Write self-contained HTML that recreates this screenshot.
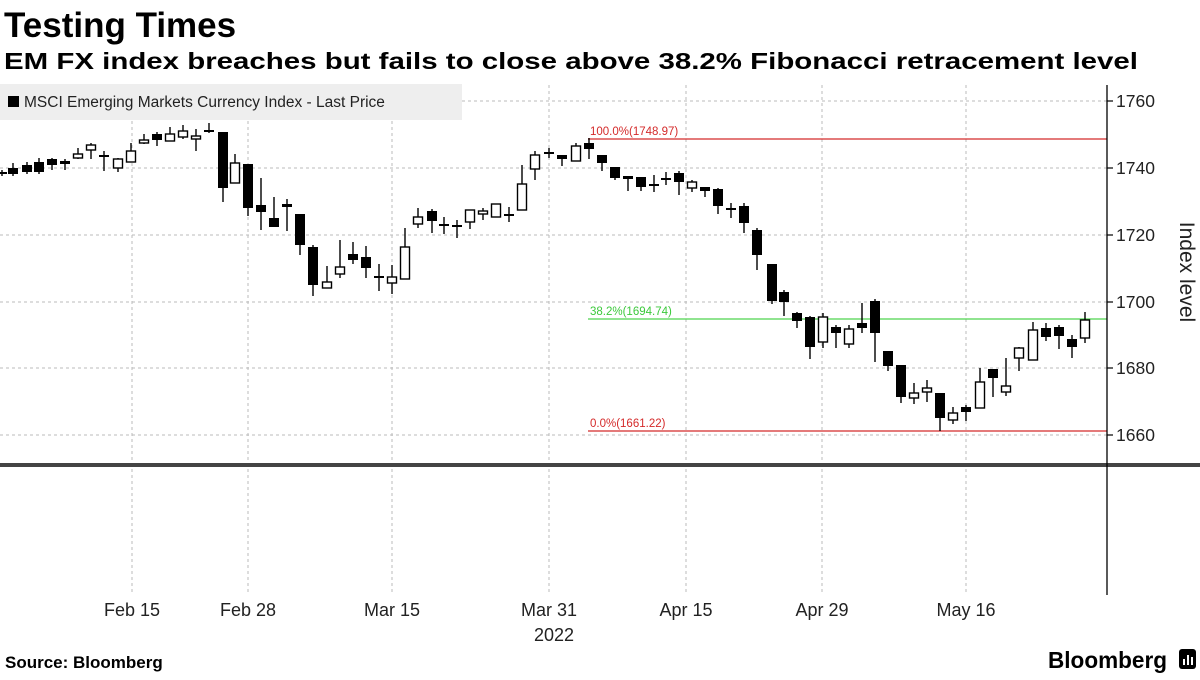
<!DOCTYPE html>
<html><head><meta charset="utf-8"><style>
body{margin:0;background:#fff;width:1200px;height:675px;overflow:hidden;font-family:"Liberation Sans",sans-serif}
</style></head><body>
<svg width="1200" height="675" xmlns="http://www.w3.org/2000/svg" font-family="Liberation Sans, sans-serif">
<text x="4" y="37" font-size="35" font-weight="bold" fill="#000">Testing Times</text>
<text x="4" y="69" font-size="23.5" font-weight="bold" fill="#000" textLength="1134" lengthAdjust="spacingAndGlyphs">EM FX index breaches but fails to close above 38.2% Fibonacci retracement level</text>
<g stroke="#bbb" stroke-width="1" stroke-dasharray="3,3">
<line x1="132" y1="85" x2="132" y2="595"/><line x1="248" y1="85" x2="248" y2="595"/><line x1="392" y1="85" x2="392" y2="595"/><line x1="549" y1="85" x2="549" y2="595"/><line x1="686" y1="85" x2="686" y2="595"/><line x1="822" y1="85" x2="822" y2="595"/><line x1="966" y1="85" x2="966" y2="595"/>
<line x1="0" y1="101" x2="1107" y2="101"/><line x1="0" y1="168" x2="1107" y2="168"/><line x1="0" y1="235" x2="1107" y2="235"/><line x1="0" y1="302" x2="1107" y2="302"/><line x1="0" y1="368" x2="1107" y2="368"/><line x1="0" y1="435" x2="1107" y2="435"/>
</g>
<rect x="0" y="84" width="462" height="36" fill="#eeeeee"/>
<rect x="8" y="96" width="11" height="11" fill="#000"/>
<text x="24" y="107" font-size="15.5" fill="#222">MSCI Emerging Markets Currency Index - Last Price</text>
<line x1="588" y1="139" x2="1107" y2="139" stroke="#d42a2a" stroke-width="1.2"/>
<text x="590" y="135" font-size="11.5" fill="#d42a2a">100.0%(1748.97)</text>
<line x1="588" y1="319" x2="1107" y2="319" stroke="#4dd34d" stroke-width="1.2"/>
<text x="590" y="315" font-size="11.5" fill="#3cc93c">38.2%(1694.74)</text>
<line x1="588" y1="431" x2="1107" y2="431" stroke="#d42a2a" stroke-width="1.2"/>
<text x="590" y="427" font-size="11.5" fill="#d42a2a">0.0%(1661.22)</text>
<g stroke="#000" stroke-width="1.4">
<line x1="2" y1="170" x2="2" y2="176"/><line x1="13" y1="163" x2="13" y2="176"/><line x1="27" y1="162" x2="27" y2="174"/><line x1="39" y1="158" x2="39" y2="174"/><line x1="52" y1="158" x2="52" y2="170"/><line x1="65" y1="159" x2="65" y2="170"/><line x1="78" y1="148" x2="78" y2="159"/><line x1="91" y1="143" x2="91" y2="159"/><line x1="104" y1="151" x2="104" y2="171"/><line x1="118" y1="158" x2="118" y2="172"/><line x1="131" y1="143" x2="131" y2="162"/><line x1="144" y1="134" x2="144" y2="144"/><line x1="157" y1="132" x2="157" y2="146"/><line x1="170" y1="127" x2="170" y2="141"/><line x1="183" y1="125" x2="183" y2="139"/><line x1="196" y1="129" x2="196" y2="151"/><line x1="209" y1="123" x2="209" y2="133"/><line x1="223" y1="132" x2="223" y2="202"/><line x1="235" y1="154" x2="235" y2="183"/><line x1="248" y1="164" x2="248" y2="216"/><line x1="261" y1="178" x2="261" y2="230"/><line x1="274" y1="197" x2="274" y2="227"/><line x1="287" y1="199" x2="287" y2="231"/><line x1="300" y1="214" x2="300" y2="255"/><line x1="313" y1="245" x2="313" y2="296"/><line x1="327" y1="266" x2="327" y2="288"/><line x1="340" y1="240" x2="340" y2="278"/><line x1="353" y1="242" x2="353" y2="264"/><line x1="366" y1="246" x2="366" y2="278"/><line x1="379" y1="264" x2="379" y2="291"/><line x1="392" y1="265" x2="392" y2="294"/><line x1="405" y1="228" x2="405" y2="279"/><line x1="418" y1="208" x2="418" y2="228"/><line x1="432" y1="209" x2="432" y2="233"/><line x1="444" y1="217" x2="444" y2="234"/><line x1="457" y1="220" x2="457" y2="238"/><line x1="470" y1="210" x2="470" y2="229"/><line x1="483" y1="208" x2="483" y2="220"/><line x1="496" y1="204" x2="496" y2="217"/><line x1="509" y1="207" x2="509" y2="222"/><line x1="522" y1="165" x2="522" y2="210"/><line x1="535" y1="151" x2="535" y2="180"/><line x1="549" y1="148" x2="549" y2="158"/><line x1="562" y1="155" x2="562" y2="166"/><line x1="576" y1="143" x2="576" y2="161"/><line x1="589" y1="138" x2="589" y2="159"/><line x1="602" y1="155" x2="602" y2="171"/><line x1="615" y1="167" x2="615" y2="180"/><line x1="628" y1="176" x2="628" y2="191"/><line x1="641" y1="177" x2="641" y2="191"/><line x1="654" y1="175" x2="654" y2="192"/><line x1="666" y1="172" x2="666" y2="185"/><line x1="679" y1="171" x2="679" y2="195"/><line x1="692" y1="180" x2="692" y2="192"/><line x1="705" y1="187" x2="705" y2="197"/><line x1="718" y1="188" x2="718" y2="214"/><line x1="731" y1="203" x2="731" y2="218"/><line x1="744" y1="203" x2="744" y2="233"/><line x1="757" y1="228" x2="757" y2="270"/><line x1="772" y1="264" x2="772" y2="304"/><line x1="784" y1="290" x2="784" y2="316"/><line x1="797" y1="312" x2="797" y2="328"/><line x1="810" y1="316" x2="810" y2="359"/><line x1="823" y1="313" x2="823" y2="348"/><line x1="836" y1="325" x2="836" y2="348"/><line x1="849" y1="325" x2="849" y2="348"/><line x1="862" y1="303" x2="862" y2="333"/><line x1="875" y1="299" x2="875" y2="362"/><line x1="888" y1="351" x2="888" y2="371"/><line x1="901" y1="365" x2="901" y2="403"/><line x1="914" y1="383" x2="914" y2="404"/><line x1="927" y1="380" x2="927" y2="402"/><line x1="940" y1="393" x2="940" y2="431"/><line x1="953" y1="407" x2="953" y2="424"/><line x1="966" y1="405" x2="966" y2="421"/><line x1="980" y1="368" x2="980" y2="408"/><line x1="993" y1="369" x2="993" y2="397"/><line x1="1006" y1="358" x2="1006" y2="396"/><line x1="1019" y1="347" x2="1019" y2="371"/><line x1="1033" y1="322" x2="1033" y2="360"/><line x1="1046" y1="323" x2="1046" y2="341"/><line x1="1059" y1="325" x2="1059" y2="349"/><line x1="1072" y1="335" x2="1072" y2="358"/><line x1="1085" y1="312" x2="1085" y2="343"/>
</g>
<g fill="#000">
<rect x="-3" y="172" width="10" height="2"/><rect x="8" y="168" width="10" height="6"/><rect x="22" y="165" width="10" height="7"/><rect x="34" y="162" width="10" height="10"/><rect x="47" y="159" width="10" height="6"/><rect x="60" y="161" width="10" height="3"/><rect x="99" y="155" width="10" height="2"/><rect x="152" y="134" width="10" height="6"/><rect x="204" y="130" width="10" height="2"/><rect x="218" y="132" width="10" height="56"/><rect x="243" y="164" width="10" height="44"/><rect x="256" y="205" width="10" height="7"/><rect x="269" y="218" width="10" height="9"/><rect x="282" y="204" width="10" height="3"/><rect x="295" y="214" width="10" height="31"/><rect x="308" y="247" width="10" height="38"/><rect x="348" y="254" width="10" height="6"/><rect x="361" y="257" width="10" height="11"/><rect x="374" y="276" width="10" height="2"/><rect x="427" y="211" width="10" height="10"/><rect x="439" y="224" width="10" height="2"/><rect x="452" y="225" width="10" height="2"/><rect x="504" y="214" width="10" height="2"/><rect x="544" y="152" width="10" height="2"/><rect x="557" y="155" width="10" height="4"/><rect x="584" y="143" width="10" height="6"/><rect x="597" y="155" width="10" height="8"/><rect x="610" y="167" width="10" height="11"/><rect x="623" y="176" width="10" height="3"/><rect x="636" y="177" width="10" height="10"/><rect x="649" y="184" width="10" height="2"/><rect x="661" y="178" width="10" height="2"/><rect x="674" y="173" width="10" height="9"/><rect x="700" y="187" width="10" height="4"/><rect x="713" y="189" width="10" height="17"/><rect x="726" y="208" width="10" height="2"/><rect x="739" y="206" width="10" height="17"/><rect x="752" y="230" width="10" height="25"/><rect x="767" y="264" width="10" height="37"/><rect x="779" y="292" width="10" height="10"/><rect x="792" y="313" width="10" height="8"/><rect x="805" y="317" width="10" height="30"/><rect x="831" y="327" width="10" height="6"/><rect x="857" y="323" width="10" height="5"/><rect x="870" y="301" width="10" height="32"/><rect x="883" y="351" width="10" height="15"/><rect x="896" y="365" width="10" height="32"/><rect x="935" y="393" width="10" height="25"/><rect x="961" y="407" width="10" height="5"/><rect x="988" y="369" width="10" height="9"/><rect x="1041" y="328" width="10" height="9"/><rect x="1054" y="327" width="10" height="9"/><rect x="1067" y="339" width="10" height="8"/>
</g>
<g fill="#fff" stroke="#000" stroke-width="1.4">
<rect x="73.5" y="154" width="9" height="4"/><rect x="86.5" y="145" width="9" height="5"/><rect x="113.5" y="159" width="9" height="9"/><rect x="126.5" y="151" width="9" height="11"/><rect x="139.5" y="140" width="9" height="3"/><rect x="165.5" y="134" width="9" height="7"/><rect x="178.5" y="131" width="9" height="6"/><rect x="191.5" y="136" width="9" height="3"/><rect x="230.5" y="163" width="9" height="20"/><rect x="322.5" y="282" width="9" height="6"/><rect x="335.5" y="267" width="9" height="7"/><rect x="387.5" y="277" width="9" height="6"/><rect x="400.5" y="247" width="9" height="32"/><rect x="413.5" y="217" width="9" height="7"/><rect x="465.5" y="210" width="9" height="12"/><rect x="478.5" y="211" width="9" height="3"/><rect x="491.5" y="204" width="9" height="13"/><rect x="517.5" y="184" width="9" height="26"/><rect x="530.5" y="155" width="9" height="14"/><rect x="571.5" y="146" width="9" height="15"/><rect x="687.5" y="182" width="9" height="6"/><rect x="818.5" y="317" width="9" height="25"/><rect x="844.5" y="329" width="9" height="15"/><rect x="909.5" y="393" width="9" height="5"/><rect x="922.5" y="388" width="9" height="4"/><rect x="948.5" y="413" width="9" height="7"/><rect x="975.5" y="382" width="9" height="26"/><rect x="1001.5" y="386" width="9" height="6"/><rect x="1014.5" y="348" width="9" height="10"/><rect x="1028.5" y="330" width="9" height="30"/><rect x="1080.5" y="320" width="9" height="18"/>
</g>
<rect x="0" y="463" width="1200" height="4" fill="#444"/>
<line x1="1107" y1="85" x2="1107" y2="595" stroke="#000" stroke-width="1.3"/>
<g stroke="#000" stroke-width="1.2"><line x1="1107" y1="101" x2="1113" y2="101"/><line x1="1107" y1="168" x2="1113" y2="168"/><line x1="1107" y1="235" x2="1113" y2="235"/><line x1="1107" y1="302" x2="1113" y2="302"/><line x1="1107" y1="368" x2="1113" y2="368"/><line x1="1107" y1="435" x2="1113" y2="435"/></g>
<g font-size="17.5" fill="#222">
<text x="1116" y="107">1760</text><text x="1116" y="174">1740</text><text x="1116" y="241">1720</text><text x="1116" y="308">1700</text><text x="1116" y="374">1680</text><text x="1116" y="441">1660</text>
</g>
<text transform="translate(1180,272) rotate(90)" text-anchor="middle" font-size="21" fill="#222">Index level</text>
<g font-size="18" fill="#222" text-anchor="middle">
<text x="132" y="616">Feb 15</text><text x="248" y="616">Feb 28</text><text x="392" y="616">Mar 15</text><text x="549" y="616">Mar 31</text><text x="554" y="641">2022</text><text x="686" y="616">Apr 15</text><text x="822" y="616">Apr 29</text><text x="966" y="616">May 16</text>
</g>
<text x="5" y="668" font-size="17" font-weight="bold" fill="#000">Source: Bloomberg</text>
<text x="1048" y="668" font-size="23" font-weight="bold" fill="#000" textLength="119" lengthAdjust="spacingAndGlyphs">Bloomberg</text>
<rect x="1179" y="649" width="17" height="20" rx="3" fill="#000"/>
<g stroke="#fff" stroke-width="2"><line x1="1184" y1="665" x2="1184" y2="659"/><line x1="1188" y1="665" x2="1188" y2="655"/><line x1="1192" y1="665" x2="1192" y2="657"/></g>
</svg>
</body></html>
